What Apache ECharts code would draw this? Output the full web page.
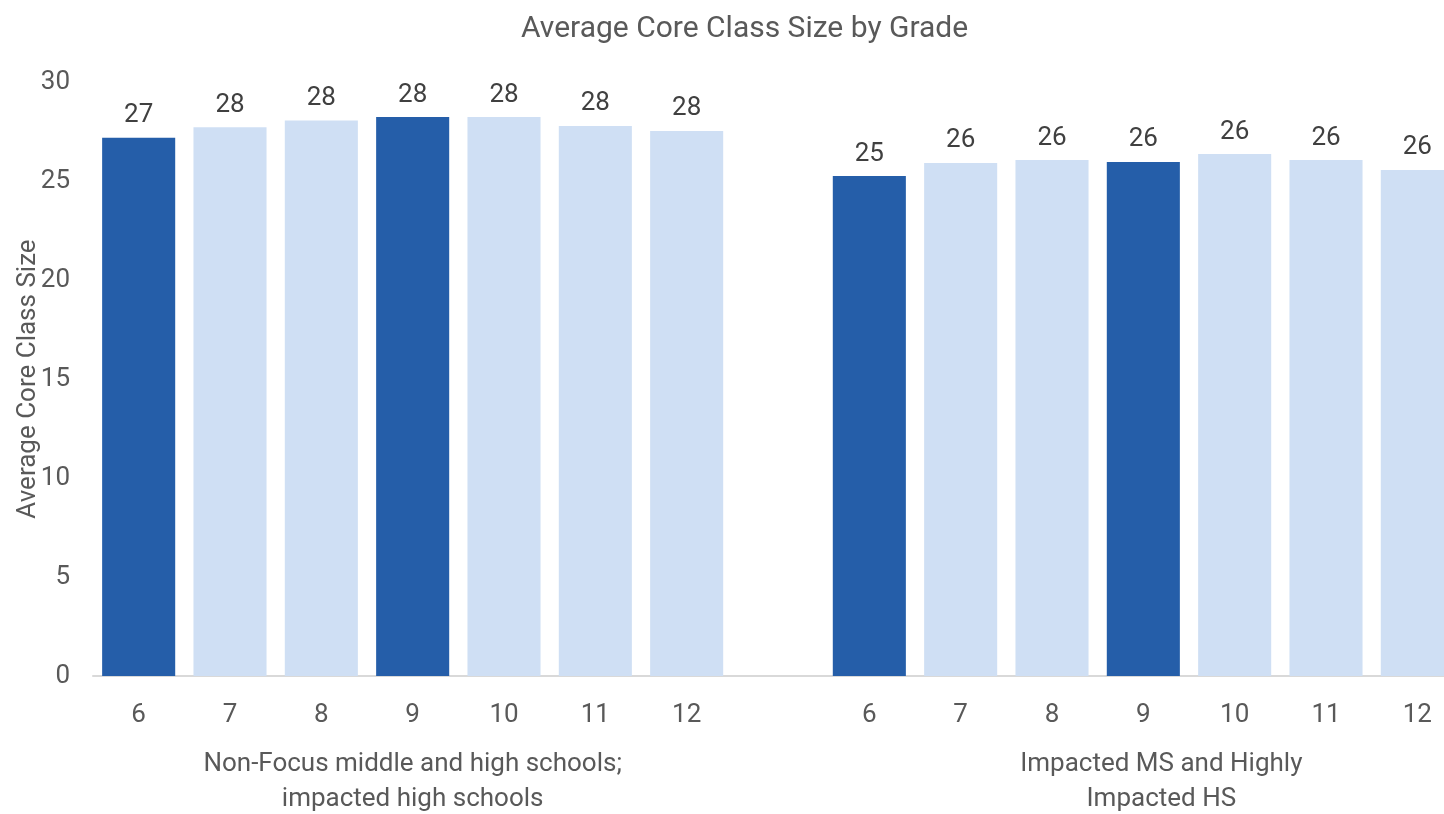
<!DOCTYPE html>
<html>
<head>
<meta charset="utf-8">
<script src="https://cdn.jsdelivr.net/npm/echarts@6/dist/echarts.min.js"></script>
<style>
html,body{margin:0;padding:0;background:#fff;}
#c{width:1444px;height:814px;}
</style>
</head>
<body>
<div id="c"></div>
<script>
const grades = ['6','7','8','9','10','11','12'];
const groupNames = ['Non-Focus middle and high schools;\nimpacted high schools', 'Impacted MS and Highly\nImpacted HS'];
const nonFocus = [27.19, 27.71, 28.06, 28.23, 28.23, 27.78, 27.53];
const impacted = [25.25, 25.91, 26.06, 25.96, 26.36, 26.06, 25.56];
const highlightGrades = ['6','9'];
const yTicks = {min: 0, max: 30, interval: 5};

const FONT = "'Liberation Sans Narrow', 'Arial Narrow', Roboto, sans-serif";
const DARK = '#255EA9', LIGHT = '#CFDFF4';

const categories = grades.concat([''], grades);
const values = nonFocus.concat([null], impacted);
const groupAxis = categories.map((_, i) => i === 3 ? groupNames[0] : (i === 11 ? groupNames[1] : ''));

const chart = echarts.init(document.getElementById('c'));
chart.setOption({
  animation: false,
  title: {
    text: 'Average Core Class Size by Grade',
    left: 516, top: 9,
    textStyle: {fontFamily: FONT, fontSize: 30, fontWeight: 'normal', color: '#595959'}
  },
  grid: {left: 93, right: -19, top: 82, bottom: 138, containLabel: false, outerBoundsMode: 'none'},
  xAxis: [{
    type: 'category',
    data: categories,
    axisLine: {lineStyle: {color: '#D9D9D9', width: 2}},
    axisTick: {show: false},
    axisLabel: {interval: 0, margin: 26, fontFamily: FONT, fontSize: 26, color: '#595959'}
  }, {
    type: 'category',
    position: 'bottom',
    data: groupAxis,
    axisLine: {show: false},
    axisTick: {show: false},
    axisLabel: {
      interval: 0, margin: 71, fontFamily: FONT, fontSize: 26, color: '#595959', lineHeight: 35,
      formatter: (v, i) => i === 11 ? '{g2|' + v.replace('\n', '}\n{g2|') + '}' : v,
      rich: {g2: {fontFamily: FONT, fontSize: 26, color: '#595959', lineHeight: 35, padding: [0, 0, 0, 36]}}
    }
  }],
  yAxis: {
    type: 'value',
    min: yTicks.min, max: yTicks.max, interval: yTicks.interval,
    name: 'Average Core Class Size',
    nameLocation: 'middle', nameGap: 52, nameMoveOverlap: false,
    nameTextStyle: {fontFamily: FONT, fontSize: 26, color: '#595959'},
    splitLine: {show: false},
    axisLine: {show: false},
    axisTick: {show: false},
    axisLabel: {margin: 23, fontFamily: FONT, fontSize: 26, color: '#595959'}
  },
  series: [{
    type: 'bar',
    data: values,
    barCategoryGap: '20%',
    itemStyle: {
      color: p => highlightGrades.indexOf(categories[p.dataIndex]) >= 0 ? DARK : LIGHT
    },
    label: {
      show: true, position: 'top', distance: 9,
      fontFamily: FONT, fontSize: 26, color: '#404040',
      formatter: p => Math.round(p.value)
    }
  }]
});
</script>
</body>
</html>
